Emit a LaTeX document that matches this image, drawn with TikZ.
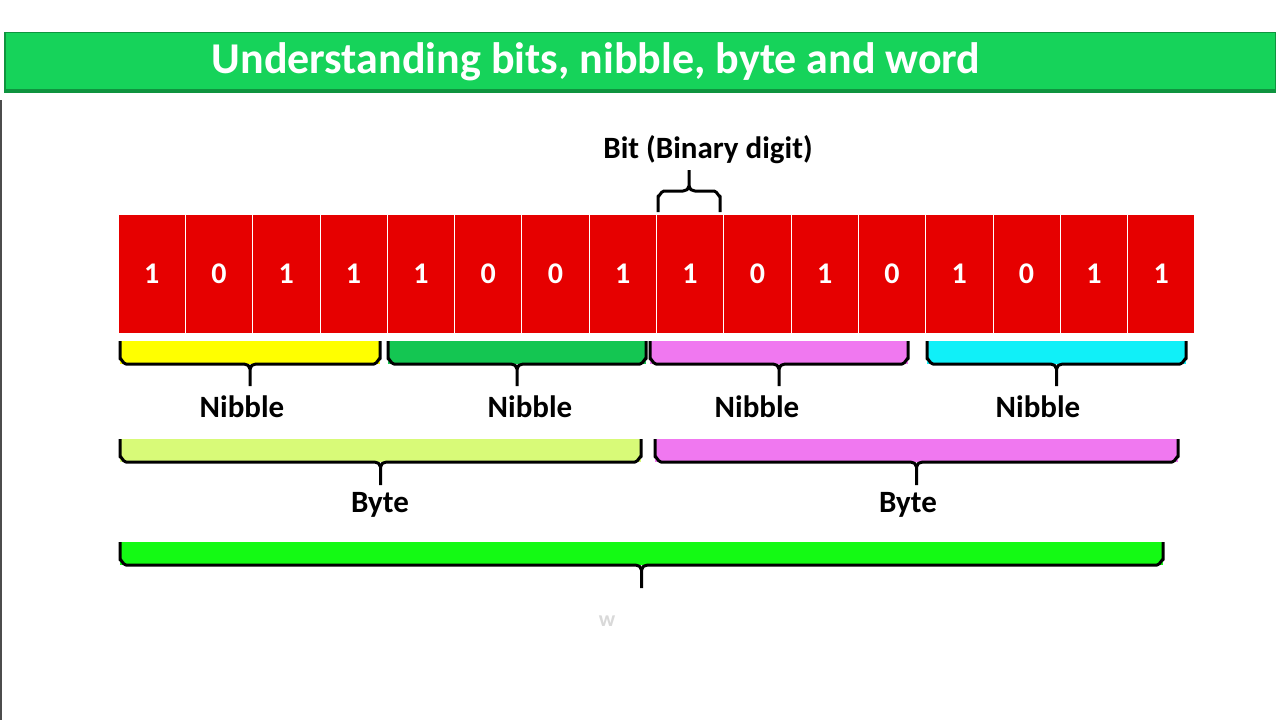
\documentclass[tikz,border=0pt]{standalone}
\usepackage{fontspec}
\setmainfont{Carlito}
\definecolor{titleg}{HTML}{16D35A}
\definecolor{cellr}{HTML}{E60000}
\definecolor{ny}{HTML}{FFFF00}
\definecolor{ng}{HTML}{14C652}
\definecolor{np}{HTML}{F078F0}
\definecolor{nc}{HTML}{10F0F8}
\definecolor{by}{HTML}{D8FA78}
\definecolor{wg}{HTML}{14FA14}
\tikzset{x=1pt,y=-1pt,
 cell/.style={fill=cellr,draw=white,line width=0.8pt,minimum width=67.3pt,minimum height=119pt,inner sep=0pt,text=white,font=\bfseries\fontsize{30}{30}\selectfont},
 lab/.style={font=\bfseries\fontsize{31}{31}\selectfont},
 brk/.style={line width=3pt,line join=round}}
\newcommand{\brak}[6]{% x1 x2 ytop ybot stem color
 \fill[#6] (#1,#3) rectangle (#2,#4);
 \pgfmathsetmacro{\mx}{(#1+#2)/2}
 \draw[brk] (#1,#3) -- (#1,#4-5) to[out=90,in=180] (#1+6,#4) -- (\mx-6,#4) to[out=0,in=90] (\mx,#4+5) -- (\mx,#5);
 \draw[brk] (#2,#3) -- (#2,#4-5) to[out=90,in=0] (#2-6,#4) -- (\mx+6,#4) to[out=180,in=90] (\mx,#4+5);}
\begin{document}
\begin{tikzpicture}
\useasboundingbox[fill=white] (0,0) rectangle (1280,720);
\fill[black!70] (0,100) rectangle (2,720);
\fill[titleg!70!black] (4,32) rectangle (1276,93);
\fill[titleg] (6,33) rectangle (1275,89);
\node[text=white,font=\bfseries\fontsize{44}{44}\selectfont] (title) at (596,62) {Understanding bits, nibble, byte and word};
\foreach \v [count=\i from 0] in {1,0,1,1,1,0,0,1,1,0,1,0,1,0,1,1}{
 \node[cell] (c\i) at (118+33.65+67.3*\i,273.5) {\v};}
\brak{120}{380}{341}{364}{386}{ny}
\brak{388}{646}{341}{364}{386}{ng}
\brak{650}{908}{341}{364}{386}{np}
\brak{927}{1186}{341}{364}{386}{nc}
\node[lab] (n1) at (242,407) {Nibble};
\node[lab] (n2) at (530,407) {Nibble};
\node[lab] (n3) at (757,407) {Nibble};
\node[lab] (n4) at (1038,407) {Nibble};
\brak{120}{641}{439}{462}{485}{by}
\brak{655}{1178}{439}{462}{485}{np}
\node[lab] (b1) at (380,505) {Byte};
\node[lab] (b2) at (908,505) {Byte};
\brak{120}{1163}{542}{565}{588}{wg}
\node[text=black!15,font=\bfseries\fontsize{22}{22}\selectfont] (w) at (607,621) {w};
\draw[brk] (658,212) -- (658,196) to[out=-90,in=180] (664,191) -- (683,191) to[out=0,in=-90] (689,186) -- (689,170);
\draw[brk] (720,212) -- (720,196) to[out=-90,in=0] (714,191) -- (695,191) to[out=180,in=-90] (689,186);
\node[lab] (bit) at (708,150) {Bit (Binary digit)};
\end{tikzpicture}
\end{document}
